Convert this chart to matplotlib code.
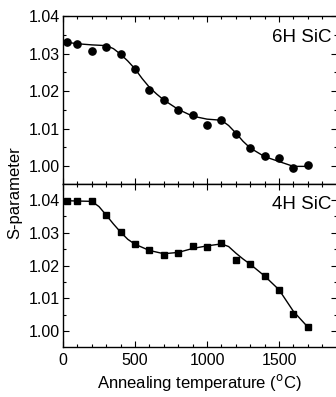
import matplotlib
matplotlib.use("Agg")
import matplotlib.pyplot as plt
from matplotlib.ticker import MultipleLocator

plt.rcParams['font.family'] = ['Liberation Sans', 'DejaVu Sans']

# ==============================
# DATA
# ==============================

temps = [25, 100, 200, 300, 400, 500, 600, 700, 800, 900,
         1000, 1100, 1200, 1300, 1400, 1500, 1600, 1700]

s_6h = [1.0330, 1.0325, 1.0307, 1.0318, 1.0298, 1.0259, 1.0204, 1.0176, 1.0149,
        1.0136, 1.0109, 1.0122, 1.0085, 1.0047, 1.0027, 1.0021, 0.9996, 1.0003]

s_4h = [1.0398, 1.0396, 1.0397, 1.0354, 1.0302, 1.0265, 1.0246, 1.0233, 1.0237,
        1.0259, 1.0256, 1.0269, 1.0218, 1.0206, 1.0168, 1.0126, 1.0053, 1.0011]

# fitted guide curves
fit_6h_x = [25, 100, 200, 300, 350, 400, 450, 500, 550, 600, 650, 700, 800, 900,
            1000, 1100, 1150, 1200, 1250, 1300, 1400, 1500, 1600, 1700]
fit_6h_y = [1.0330, 1.0326, 1.0323, 1.0321, 1.0313, 1.0298, 1.0280, 1.0259, 1.0233,
            1.0210, 1.0192, 1.0176, 1.0151, 1.0133, 1.0125, 1.0122, 1.0108, 1.0088,
            1.0066, 1.0048, 1.0025, 1.0012, 0.9999, 0.9999]

fit_4h_x = [25, 100, 200, 250, 300, 350, 400, 450, 500, 600, 700, 800, 900, 1000,
            1100, 1150, 1200, 1250, 1300, 1400, 1500, 1600, 1700]
fit_4h_y = [1.0398, 1.0397, 1.0396, 1.0380, 1.0354, 1.0327, 1.0302, 1.0280, 1.0265,
            1.0246, 1.0236, 1.0240, 1.0252, 1.0260, 1.0266, 1.0258, 1.0238, 1.0220,
            1.0204, 1.0168, 1.0126, 1.0060, 1.0012]

yticks = [1.00, 1.01, 1.02, 1.03, 1.04]

# ==============================
# PLOT
# ==============================

fig = plt.figure(figsize=(3.36, 3.97), dpi=100)
ax1 = fig.add_axes([0.1875, 0.5365, 0.8143, 0.4232])
ax2 = fig.add_axes([0.1875, 0.1259, 0.8143, 0.4106], sharex=ax1)

ax1.plot(fit_6h_x, fit_6h_y, color="black", lw=1.0)
ax1.plot(temps, s_6h, "o", color="black", ms=5.2)

ax2.plot(fit_4h_x, fit_4h_y, color="black", lw=1.0)
ax2.plot(temps, s_4h, "s", color="black", ms=4.6)

ax1.set_xlim(0, 1900)
ax1.set_ylim(0.9952, 1.040)
ax2.set_ylim(0.9951, 1.0449)

for ax in (ax1, ax2):
    ax.set_yticks(yticks)
    ax.yaxis.set_minor_locator(MultipleLocator(0.005))
    ax.xaxis.set_major_locator(MultipleLocator(500))
    ax.xaxis.set_minor_locator(MultipleLocator(100))
    ax.tick_params(which="both", direction="in", top=True, right=True,
                   labelsize=11.5, width=0.8)
    ax.tick_params(which="major", length=4)
    ax.tick_params(which="minor", length=2)
    ax.tick_params(axis="x", pad=4)
    ax.tick_params(axis="y", pad=2.5)
    ax.yaxis.set_major_formatter(plt.FormatStrFormatter("%.2f"))
    for sp in ax.spines.values():
        sp.set_linewidth(1.0)

ax1.tick_params(labelbottom=False)

ax1.text(0.982, 0.925, "6H SiC", transform=ax1.transAxes, ha="right", va="top",
         fontsize=13.5)
ax2.text(0.982, 0.925, "4H SiC", transform=ax2.transAxes, ha="right", va="top",
         fontsize=13.5)

ax2.set_xlabel(r"Annealing temperature ($^{\rm o}$C)", fontsize=12, labelpad=3)
fig.text(0.043, 0.514, "S-parameter", rotation=90, ha="center", va="center",
         fontsize=12)

fig.savefig("out.png", dpi=100)
